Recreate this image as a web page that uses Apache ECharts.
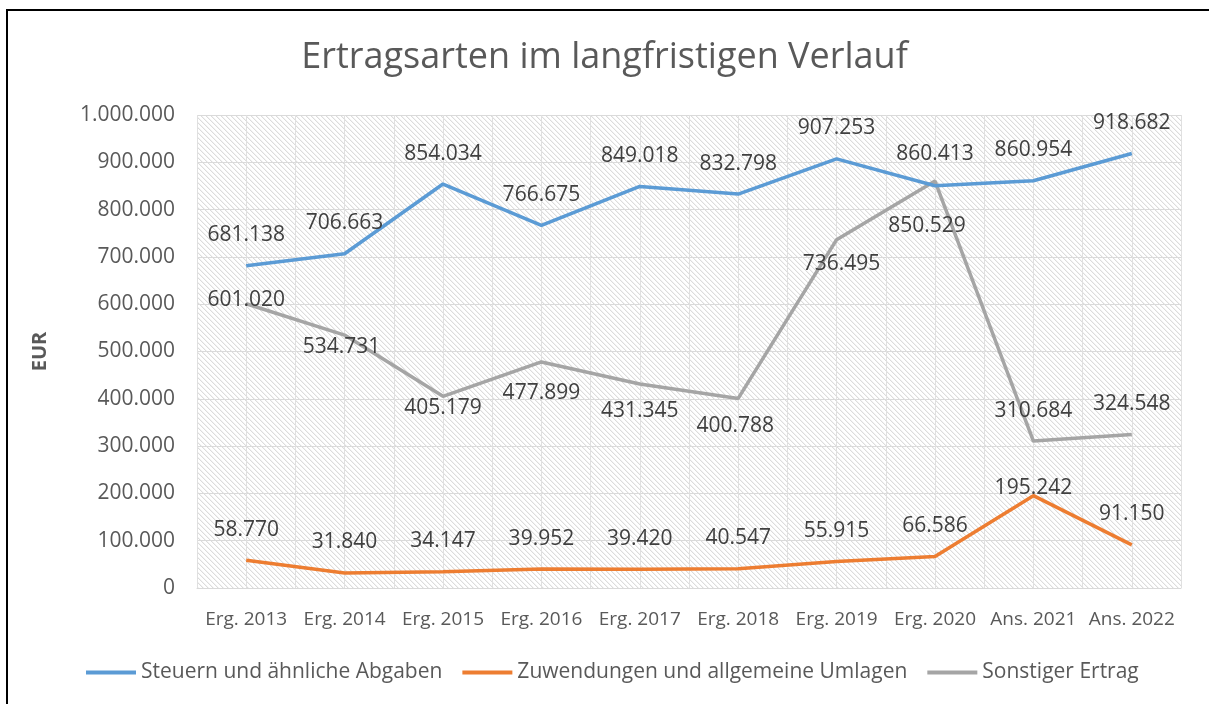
<!DOCTYPE html>
<html>
<head>
<meta charset="utf-8">
<script src="https://cdn.jsdelivr.net/npm/echarts@6/dist/echarts.min.js"></script>
<style>
  html, body { margin: 0; padding: 0; background: #fff; }
  #chart { width: 1209px; height: 704px; }
</style>
</head>
<body>
<div id="chart"></div>
<script>
  var categories = ['Erg. 2013', 'Erg. 2014', 'Erg. 2015', 'Erg. 2016', 'Erg. 2017',
                    'Erg. 2018', 'Erg. 2019', 'Erg. 2020', 'Ans. 2021', 'Ans. 2022'];
  var steuern = [681138, 706663, 854034, 766675, 849018, 832798, 907253, 850529, 860954, 918682];
  var zuwendungen = [58770, 31840, 34147, 39952, 39420, 40547, 55915, 66586, 195242, 91150];
  var sonstiger = [601020, 534731, 405179, 477899, 431345, 400788, 736495, 860413, 310684, 324548];

  // label nudges (index -> [dx, dy]) relative to the default "top" spot
  var steuernShift = { 7: [-8, 71] };
  var zuwendungenShift = { 8: [0, 23] };
  var sonstigerShift = { 0: [0, 27], 1: [-3, 42], 2: [0, 42], 3: [0, 62], 4: [0, 58],
                         5: [-3, 58], 6: [5, 55], 7: [0, 3] };

  function fmt(v) {
    return String(v).replace(/\B(?=(\d{3})+(?!\d))/g, '.');
  }

  function withShift(values, shift) {
    return values.map(function (v, i) {
      if (shift[i]) {
        return { value: v, label: { offset: shift[i] } };
      }
      return v;
    });
  }

  // hatched plot background
  var tile = document.createElement('canvas');
  tile.width = 5;
  tile.height = 5;
  var ctx = tile.getContext('2d');
  ctx.fillStyle = '#ffffff';
  ctx.fillRect(0, 0, 5, 5);
  for (var i = 0; i < 5; i++) {
    ctx.fillStyle = '#dcdcdc';
    ctx.fillRect(i, i, 1, 1);
    ctx.fillStyle = '#f3f3f3';
    ctx.fillRect((i + 1) % 5, i, 1, 1);
  }

  var font = '"Open Sans", "Noto Sans", sans-serif';
  var labelStyle = {
    show: true,
    position: 'top',
    distance: 20,
    fontFamily: font,
    fontSize: 21,
    color: '#404040',
    formatter: function (p) { return fmt(p.value); }
  };

  function lineSeries(name, values, shift, color, z) {
    return {
      name: name,
      type: 'line',
      data: withShift(values, shift),
      symbol: 'circle',
      symbolSize: 0,
      showSymbol: true,
      lineStyle: { width: 3.5, color: color },
      itemStyle: { color: color },
      label: labelStyle,
      z: z
    };
  }

  var option = {
    animation: false,
    backgroundColor: '#ffffff',
    title: {
      text: 'Ertragsarten im langfristigen Verlauf',
      left: 'center',
      top: 35,
      textStyle: { fontFamily: font, fontSize: 36, fontWeight: 'normal', color: '#595959' }
    },
    legend: {
      bottom: 16,
      left: 81,
      icon: 'rect',
      itemWidth: 50,
      itemHeight: 4,
      itemGap: 20,
      textStyle: { fontFamily: font, fontSize: 21, color: '#595959' },
      data: ['Steuern und ähnliche Abgaben', 'Zuwendungen und allgemeine Umlagen', 'Sonstiger Ertrag']
    },
    grid: {
      left: 197,
      right: 28,
      top: 115,
      bottom: 116,
      show: true,
      borderWidth: 0,
      backgroundColor: { image: tile, repeat: 'repeat' }
    },
    xAxis: [{
      type: 'category',
      data: categories,
      boundaryGap: true,
      axisLine: { lineStyle: { color: '#d9d9d9', width: 1 } },
      axisTick: { show: false },
      splitLine: { show: false },
      axisLabel: { interval: 0, margin: 22, fontFamily: font, fontSize: 19, color: '#595959' }
    }, {
      type: 'value',
      min: 0,
      max: 20,
      interval: 1,
      position: 'top',
      axisLine: { show: false },
      axisTick: { show: false },
      axisLabel: { show: false },
      splitLine: { show: true, lineStyle: { color: '#e0e0e0', width: 1 } }
    }],
    yAxis: {
      type: 'value',
      min: 0,
      max: 1000000,
      interval: 100000,
      name: 'EUR',
      nameLocation: 'middle',
      nameRotate: 90,
      nameGap: 147,
      nameTextStyle: { fontFamily: font, fontSize: 20, fontWeight: 'bold', color: '#595959' },
      axisLine: { show: false },
      axisTick: { show: false },
      axisLabel: { margin: 22, fontFamily: font, fontSize: 21, color: '#595959',
                   formatter: function (v) { return fmt(v); } },
      splitLine: { lineStyle: { color: '#dadada', width: 1 } }
    },
    series: [
      lineSeries('Steuern und ähnliche Abgaben', steuern, steuernShift, '#5B9BD5', 4),
      lineSeries('Zuwendungen und allgemeine Umlagen', zuwendungen, zuwendungenShift, '#ED7D31', 3),
      lineSeries('Sonstiger Ertrag', sonstiger, sonstigerShift, '#A5A5A5', 2)
    ],
    graphic: [{
      type: 'rect',
      silent: true,
      z: 100,
      shape: { x: 7, y: 10, width: 1400, height: 1000 },
      style: { fill: 'none', stroke: '#000000', lineWidth: 2 }
    }]
  };

  var myChart = echarts.init(document.getElementById('chart'));
  myChart.setOption(option);
</script>
</body>
</html>
